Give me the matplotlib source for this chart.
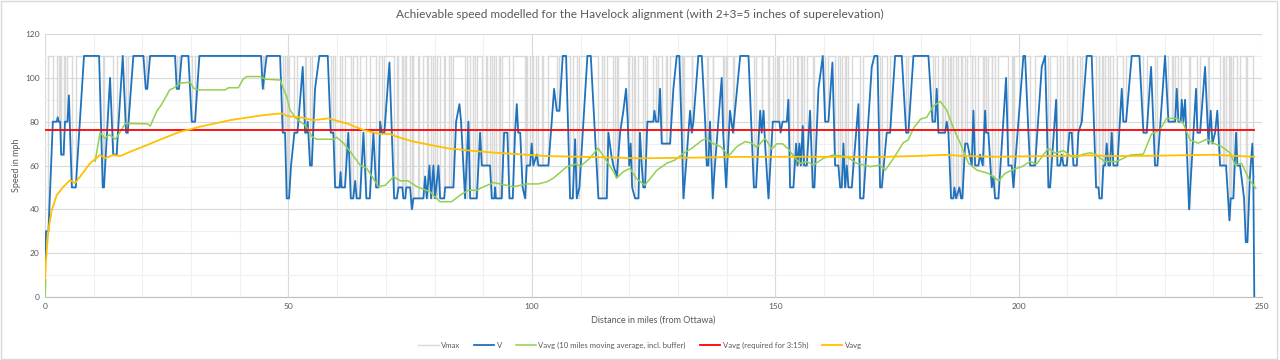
"""
Achievable speed along the Havelock alignment - speed profile chart.
"""
import numpy as np
import matplotlib
matplotlib.use("Agg")
import matplotlib.pyplot as plt
from matplotlib.patches import Rectangle
from matplotlib.ticker import MultipleLocator

GREY_TXT = "#595959"
GRID_MAJ = "#d9d9d9"
GRID_MIN = "#f0f0f0"
C_VMAX   = "#d9d9d9"
C_V      = "#1f72bd"
C_GREEN  = "#92d050"
C_RED    = "#ff0000"
C_YELLOW = "#ffc000"

plt.rcParams["font.family"] = ["Lato", "DejaVu Sans"]

# ── data (miles from Ottawa, mph) ─────────────────────────
v_mi = [0, 0.2, 0.7, 1.6, 2.4, 2.6, 2.8, 3.1, 3.3, 3.8, 4.1, 4.6, 4.9, 5.5, 6.3, 8.0,
        11.1, 11.85, 12.1, 13.35, 14.0, 14.7, 15.96, 16.64, 16.98, 18.14, 20.2, 20.68,
        21.0, 21.57, 26.7, 27.05, 27.5, 28.07, 29.44, 30.13, 30.81, 31.71, 44.37, 44.72,
        45.53, 48.28, 48.82, 49.3, 49.64, 50.12, 50.53, 51.22, 51.83, 52.04, 52.93, 53.41,
        53.7, 53.96, 54.43, 54.78, 55.46, 56.35, 58.07, 58.68, 59.23, 59.58, 60.5, 60.7,
        60.9, 61.6, 62.3, 62.8, 63.3, 63.7, 64.0, 64.7, 65.4, 66.0, 66.7, 67.45, 68.0,
        68.5, 68.82, 69.16, 69.7, 70.74, 71.7, 72.25, 72.6, 73.4, 73.6, 74.0, 74.2, 75.0,
        75.33, 75.67, 77.72, 78.07, 78.41, 78.96, 79.3, 79.78, 80.12, 80.81, 81.15, 82.0,
        82.18, 83.89, 84.44, 85.12, 85.46, 86.28, 86.97, 87.31, 88.68, 89.37, 89.71, 91.41,
        91.76, 92.3, 92.44, 92.6, 93.8, 94.3, 94.97, 95.4, 96.07, 96.55, 96.9, 97.2, 97.6,
        98.1, 98.6, 98.95, 99.63, 99.97, 100.3, 101.0, 101.35, 102.37, 103.4, 104.08,
        104.56, 105.11, 105.66, 106.34, 107.03, 107.85, 108.4, 108.88, 109.22, 109.77,
        111.41, 112.1, 113.67, 115.38, 115.72, 116.3, 116.75, 117.44, 118.12, 118.8, 119.35,
        119.7, 120.0, 120.3, 120.6, 121.2, 121.9, 122.2, 122.57, 122.9, 123.25, 123.73,
        124.96, 125.17, 125.5, 125.99, 126.33, 126.68, 128.39, 129.07, 129.76, 130.3, 130.78,
        131.13, 131.67, 132.15, 132.5, 132.84, 133.18, 134.2, 134.9, 135.6, 135.92, 136.26,
        136.6, 137.15, 137.6, 138.3, 139.0, 139.3, 139.9, 140.7, 141.3, 142.8, 144.5, 145.6,
        146.05, 146.9, 147.2, 147.6, 147.9, 148.6, 149.5, 150.85, 151.1, 151.5, 152.36,
        152.7, 153.04, 153.73, 154.28, 154.55, 154.96, 155.24, 155.65, 155.92, 156.47,
        157.15, 157.7, 158.04, 158.87, 159.76, 160.24, 160.92, 161.74, 162.29, 162.97,
        163.32, 163.66, 164.0, 164.34, 164.69, 165.03, 165.71, 167.08, 167.42, 168.11,
        169.82, 170.37, 170.99, 171.53, 171.88, 172.9, 173.59, 174.62, 175.98, 176.88,
        177.35, 178.38, 181.46, 182.3, 182.83, 183.17, 183.51, 184.88, 185.22, 185.57,
        186.11, 186.59, 186.8, 187.14, 187.83, 188.17, 188.44, 189.0, 189.47, 190.36, 190.7,
        191.05, 191.73, 192.07, 192.62, 193.1, 193.3, 193.78, 194.47, 194.81, 195.15,
        195.84, 197.41, 197.89, 198.58, 198.92, 200.29, 200.97, 201.32, 202.0, 202.34,
        203.37, 204.74, 205.43, 206.11, 206.45, 207.69, 207.96, 208.5, 208.85, 209.19,
        209.88, 210.42, 210.9, 211.25, 211.93, 212.27, 212.96, 213.99, 215.0, 215.9, 216.4,
        216.58, 217.06, 217.4, 217.75, 218.09, 218.43, 218.77, 219.12, 219.46, 220.28,
        221.17, 221.51, 222.06, 223.22, 224.8, 225.62, 226.3, 227.2, 228.0, 228.5, 230.07,
        230.76, 232.13, 232.47, 232.81, 233.29, 233.5, 233.84, 234.18, 235.0, 235.9, 236.44,
        236.72, 237.26, 238.29, 238.98, 239.45, 239.8, 240.35, 240.8, 241.37, 242.6, 243.29,
        243.56, 244.1, 244.66, 244.93, 245.48, 246.3, 246.65, 246.99, 247.5, 248.0, 248.2,
        248.4]
v_mph = [17, 30, 30, 80, 80, 82, 80, 80, 65, 65, 80, 80, 92, 50, 50, 110,
         110, 50, 50, 100, 65, 65, 110, 75, 75, 110, 110, 95,
         95, 110, 110, 95, 95, 110, 110, 80, 80, 110, 110, 95,
         110, 110, 75, 75, 45, 45, 60, 75, 75, 80, 105, 75,
         75, 80, 60, 60, 95, 110, 110, 75, 75, 50, 50, 57,
         50, 50, 75, 45, 45, 53, 45, 45, 75, 45, 45, 75, 50,
         50, 80, 75, 75, 107, 45, 45, 50, 50, 45, 45, 50, 50,
         40, 45, 45, 55, 45, 60, 45, 60, 45, 60, 45, 45,
         50, 50, 80, 88, 80, 45, 80, 45, 45, 75, 60, 60,
         45, 45, 50, 45, 45, 75, 75, 45, 45, 75, 88, 75, 75,
         50, 45, 60, 60, 70, 60, 65, 60, 60, 60, 80,
         95, 85, 85, 110, 110, 45, 45, 72, 45, 50,
         110, 110, 45, 45, 75, 65, 60, 55, 75, 85, 95,
         80, 60, 70, 50, 45, 45, 75, 60, 50, 50, 80,
         80, 85, 80, 80, 95, 70, 70, 95, 110, 110, 75,
         45, 60, 75, 85, 75, 80, 110, 110, 80, 60, 60,
         80, 45, 60, 80, 100, 75, 50, 85, 75, 110, 110, 50,
         50, 85, 75, 85, 70, 45, 80, 80, 75, 80, 80,
         90, 50, 50, 70, 60, 70, 60, 78, 60, 60,
         85, 50, 50, 95, 110, 80, 80, 107, 60, 60,
         50, 50, 70, 50, 60, 50, 50, 88, 45, 45,
         105, 110, 110, 50, 50, 75, 75, 110, 110, 75,
         75, 110, 110, 80, 80, 95, 75, 75, 80, 75,
         45, 45, 50, 45, 50, 45, 45, 70, 70, 60, 85,
         60, 60, 65, 60, 85, 75, 75, 50, 55, 45,
         45, 100, 60, 60, 50, 90, 110, 110, 75, 60,
         60, 105, 110, 50, 50, 90, 60, 60, 65, 60,
         60, 75, 75, 60, 60, 75, 80, 110, 110, 50, 50,
         45, 45, 60, 60, 70, 60, 60, 75, 60, 60,
         95, 80, 80, 110, 110, 75, 75, 105, 60, 60, 110,
         80, 80, 95, 80, 80, 90, 80, 90, 40, 75, 95,
         75, 75, 105, 70, 85, 70, 75, 85, 60, 60, 35,
         45, 45, 75, 60, 60, 45, 25, 25, 55, 70, 55,
         0]

# Vmax restrictions: 110 mph line speed except over these stretches
vmax_from = [0.0, 1.6, 2.8, 3.3, 4.1, 5.5, 11.85, 14.0, 16.64, 20.68, 27.05, 30.13, 44.72,
             48.82, 49.64, 51.22, 53.41, 54.43, 58.68, 59.58, 60.9, 62.8, 64.0, 66.0, 68.0,
             69.16, 71.7, 72.6, 73.6, 74.2, 75.33, 75.67, 76.9, 78.41, 79.3, 80.12, 81.15,
             82.18, 83.3, 86.28, 87.31, 88.3, 89.71, 90.8, 91.76, 92.6, 93.4, 95.4, 98.6,
             98.95, 100.3, 101.35, 102.3, 105.11, 107.85, 109.22, 113.67, 114.8, 116.75,
             117.44, 119.7, 120.6, 121.2, 122.9, 123.73, 125.5, 126.68, 127.8, 130.78, 131.13,
             132.84, 135.92, 137.15, 139.3, 139.9, 141.3, 145.6, 147.2, 148.6, 149.5, 150.5,
             151.5, 153.04, 154.55, 155.24, 155.92, 157.7, 160.24, 162.29, 163.32, 164.34,
             165.03, 167.42, 171.53, 172.9, 176.88, 182.3, 183.51, 184.4, 185.57, 186.11,
             187.14, 188.17, 189.0, 190.36, 191.05, 192.62, 193.3, 194.47, 195.15, 197.89,
             198.92, 202.34, 206.11, 207.96, 209.19, 210.42, 211.25, 212.6, 215.9, 216.58,
             217.4, 218.43, 219.46, 221.51, 225.62, 228.0, 230.76, 231.6, 232.81, 235.0,
             236.72, 238.98, 241.37, 242.2, 243.29, 243.56, 244.93, 246.65, 248.2]
vmax_to = [0.7, 2.4, 3.1, 3.8, 4.6, 6.3, 12.1, 14.7, 16.98, 21.0, 27.5, 30.81, 44.9,
           49.3, 50.12, 51.83, 53.7, 54.78, 59.23, 60.5, 61.6, 63.3, 64.7, 66.7, 68.5,
           69.7, 72.25, 73.4, 74.0, 75.0, 75.5, 76.6, 77.72, 78.7, 79.6, 80.5, 82.0,
           83.0, 83.89, 86.6, 88.0, 88.68, 90.5, 91.41, 92.3, 93.2, 93.8, 96.07, 98.8,
           99.63, 100.8, 102.0, 103.4, 105.66, 108.4, 109.6, 114.5, 115.38, 117.0,
           117.7, 119.9, 120.9, 121.9, 123.25, 124.96, 125.99, 127.5, 128.39, 130.9, 131.3,
           132.95, 136.26, 137.3, 139.45, 140.05, 141.45, 146.05, 147.3, 148.8, 150.3, 150.85,
           152.36, 153.73, 154.7, 155.4, 156.47, 158.04, 160.92, 162.97, 163.66, 164.45,
           165.71, 168.11, 171.88, 173.59, 177.35, 182.83, 184.2, 184.88, 185.9, 186.59,
           187.5, 188.44, 189.47, 190.5, 191.73, 192.8, 193.78, 194.6, 195.84, 198.58,
           199.05, 203.37, 206.45, 208.5, 209.88, 210.9, 211.93, 212.96, 216.4, 217.06,
           217.75, 218.77, 220.28, 222.06, 226.3, 228.5, 231.4, 232.13, 233.29, 235.15,
           237.26, 239.1, 242.0, 242.6, 243.45, 244.1, 245.48, 246.99, 248.4]
vmax_val = [30, 80, 80, 65, 80, 50, 50, 65, 75, 95, 95, 80, 95,
            75, 45, 75, 75, 60, 75, 50, 50, 45, 45, 45, 50,
            75, 45, 50, 45, 50, 40, 45, 45, 45, 45, 45, 45,
            50, 50, 45, 45, 45, 60, 60, 45, 45, 45, 45, 45,
            60, 60, 60, 60, 85, 45, 45, 45, 45, 60,
            55, 80, 50, 45, 50, 80, 80, 70, 70, 75, 45,
            75, 60, 45, 75, 50, 75, 50, 75, 45, 80, 80,
            80, 50, 60, 60, 60, 50, 80, 60, 50, 50,
            50, 45, 50, 75, 75, 80, 75, 75, 75, 45,
            45, 45, 70, 60, 60, 60, 75, 50, 45, 60,
            50, 60, 50, 60, 60, 75, 60, 80, 50, 45,
            60, 60, 60, 80, 75, 60, 80, 80, 80, 40,
            75, 70, 60, 60, 35, 45, 60, 25, 55]
VMAX_LINE = 110
ROUTE_END = 248.4

g_mi = [0, 0.15, np.nan, 10.3, 11.3, 12.3, 13.2, 14.5, 16.5, 21.0, 21.6, 23.0, 23.9, 25.6,
        26.4, 27.7, 29.8, 30.5, 31.5, 37.0, 37.7, 39.7, 40.7, 41.4, 44.2, 45.2, 48.3, 48.96,
        49.64, 50.3, 51.36, 52.4, 53.4, 54.1, 54.8, 55.8, 59.2, 59.9, 61.3, 62.7, 64.7,
        66.1, 68.5, 69.9, 71.6, 73.0, 74.6, 76.4, 79.1, 81.1, 83.5, 85.6, 87.0, 88.7, 89.4,
        92.1, 93.5, 96.2, 99.0, 101.3, 103.1, 104.4, 107.2, 109.2, 109.9, 111.9, 113.6,
        115.0, 116.8, 117.4, 118.8, 120.2, 121.5, 123.2, 125.7, 127.7, 129.4, 131.1, 132.9,
        134.9, 136.0, 137.0, 138.8, 140.4, 142.1, 143.8, 145.2, 146.2, 147.9, 149.3, 150.3,
        151.5, 152.7, 154.1, 155.1, 156.5, 157.8, 159.9, 161.9, 164.7, 166.7, 169.5, 171.5,
        172.6, 174.3, 176.3, 177.3, 178.4, 179.8, 181.1, 182.5, 183.9, 185.2, 186.6, 188.0,
        189.7, 191.4, 193.8, 195.9, 197.2, 198.9, 200.7, 202.3, 203.7, 206.1, 207.5, 209.2,
        210.9, 211.9, 213.3, 214.7, 215.7, 217.7, 220.1, 222.9, 225.6, 227.3, 229.0, 230.4,
        232.4, 233.8, 235.2, 236.9, 238.6, 240.0, 241.7, 243.4, 244.5, 245.8, 247.2, 248.7]
g_mph = [0, 8, np.nan, 62, 75, 72.4, 74, 72, 79.2, 79, 78, 85, 87.7, 94.5,
         95.3, 97.6, 98, 95.3, 94.5, 94.5, 95.5, 95.5, 99.4, 100.6, 100.6, 99.4, 99, 95,
         91.5, 85.4, 82, 80, 78.5, 76.2, 73.2, 72, 72, 72.9, 70.2, 66.3, 60.2,
         58.7, 50.3, 51.0, 54.9, 53.0, 53.0, 50.3, 48.0, 43.5, 43.5, 47, 48.7, 48.7, 49.6,
         52.2, 51.6, 50.3, 51.6, 51.6, 52.6, 54.2, 59.5, 60.7, 59.5, 63.3, 67.9,
         63.3, 57.2, 54.2, 57.2, 58.7, 54, 51.0, 57.9, 61, 62.5, 65.5, 67.9,
         71.4, 72.4, 70.2, 68.6, 64.3, 68.6, 70.9, 70.2, 68.3, 72.4, 67.5, 69.9,
         69.9, 67.5, 63.3, 61.0, 61.8, 60.2, 63.3, 64.8, 64.0, 61.0, 59.5, 60.2,
         57.9, 63.3, 70.4, 71.7, 77.0, 81.1, 82.0, 87.2, 89.2, 85.4, 77.0, 70.2,
         61.0, 57.9, 56.4, 53.0, 56.4, 58.2, 59.5, 61.8, 60.7, 67.9, 65.6, 66.8,
         64.0, 63.6, 65.2, 65.8, 65.2, 61.8, 61.8, 64.8, 65.2, 74.4, 76.2, 81.5,
         81.5, 79.2, 71.7, 70.2, 72, 70.2, 68.6, 65.8, 60.2, 61.0, 54.2, 49.6]

y_mi = [0, 0.2, 0.68, 1.37, 2.4, 3.77, 5.13, 6.16, 7.19, 9.24, 11.3, 12.3, 14.04, 15.4,
        17.5, 20.9, 24.3, 27.7, 29.8, 31.8, 38.0, 44.9, 48.6, 49.7, 52.4, 55.1, 58.2, 60.6,
        62.0, 65.4, 68.8, 70.9, 72.2, 75.7, 79.1, 82.5, 87.3, 91.4, 96.2, 103.1, 109.9,
        116.8, 122.2, 133.9, 140.7, 153.0, 171.5, 178.4, 181.8, 185.2, 188.6, 195.5, 202.3,
        214.7, 219.5, 229.0, 240.0, 245.5, 248.4]
y_mph = [8, 16.8, 30.5, 39.6, 46.5, 50.3, 53.3, 52, 54.9, 61, 64.8, 63.3, 64.8, 64.3,
         66.3, 69.3, 72.4, 75.4, 76.5, 77.7, 80.7, 83, 83.8, 82.6, 82, 80.7, 81.5, 80,
         79.2, 76.2, 74.4, 74.4, 73.2, 70.9, 69.4, 67.9, 66.8, 66.0, 65.3, 64.3, 64.0,
         63.6, 63.3, 63.6, 63.9, 64.0, 63.9, 64.3, 64.6, 64.9, 64.3, 64.0, 64.2,
         64.6, 64.3, 64.5, 64.9, 64.3, 64.0]

required_mph = 76

# build Vmax step line from the restriction table
vmax_x, vmax_y = [], []
prev = 0.0
for a, b, val in zip(vmax_from, vmax_to, vmax_val):
    if a > prev:
        vmax_x += [prev, a]
        vmax_y += [VMAX_LINE, VMAX_LINE]
    vmax_x += [a, b]
    vmax_y += [val, val]
    prev = b
if prev < ROUTE_END:
    vmax_x += [prev, ROUTE_END]
    vmax_y += [VMAX_LINE, VMAX_LINE]

# ── figure ────────────────────────────────────────────────
fig = plt.figure(figsize=(12.8, 3.6), dpi=100, facecolor="white")
ax = fig.add_axes([0.0352, 0.175, 0.9508, 0.7305])

ax.plot(vmax_x, vmax_y, color=C_VMAX, lw=1.0, label="Vmax", zorder=2)
ax.plot(v_mi, v_mph, color=C_V, lw=1.3, label="V", zorder=3)
ax.plot(g_mi, g_mph, color=C_GREEN, lw=1.1, label="Vavg (10 miles moving average, incl. buffer)", zorder=4)
ax.plot([0, ROUTE_END], [required_mph, required_mph], color=C_RED, lw=1.3,
        label="Vavg (required for 3:15h)", zorder=5)
ax.plot(y_mi, y_mph, color=C_YELLOW, lw=1.3, label="Vavg", zorder=6)

ax.set_xlim(0, 250)
ax.set_ylim(0, 120)
ax.xaxis.set_major_locator(MultipleLocator(50))
ax.xaxis.set_minor_locator(MultipleLocator(10))
ax.yaxis.set_major_locator(MultipleLocator(20))
ax.yaxis.set_minor_locator(MultipleLocator(10))
ax.grid(True, which="major", color=GRID_MAJ, lw=0.8, zorder=0)
ax.grid(True, which="minor", color=GRID_MIN, lw=0.8, zorder=0)
ax.set_axisbelow(True)
ax.tick_params(which="both", length=0, labelsize=6, colors=GREY_TXT)
ax.tick_params(axis="y", pad=4)
ax.tick_params(axis="x", pad=4)
for side in ("top", "right", "left"):
    ax.spines[side].set_visible(False)
ax.spines["bottom"].set_color("#bfbfbf")

ax.set_xlabel("Distance in miles (from Ottawa)", fontsize=6.5, color=GREY_TXT, labelpad=4)
ax.set_ylabel("Speed in mph", fontsize=6.5, color=GREY_TXT, labelpad=3)
fig.suptitle("Achievable speed modelled for the Havelock alignment "
             "(with 2+3=5 inches of superelevation)",
             fontsize=8.6, color=GREY_TXT, y=0.975)

fig.legend(loc="center", bbox_to_anchor=(0.5, 0.04), ncol=5, frameon=False,
           fontsize=5.6, labelcolor=GREY_TXT, handlelength=2.6, columnspacing=1.8,
           handletextpad=0.3)

fig.patches.append(Rectangle((0.001, 0.002), 0.997, 0.995, transform=fig.transFigure,
                             fill=False, edgecolor="#d9d9d9", lw=1.0))

fig.savefig("out.png", dpi=100, facecolor="white")
